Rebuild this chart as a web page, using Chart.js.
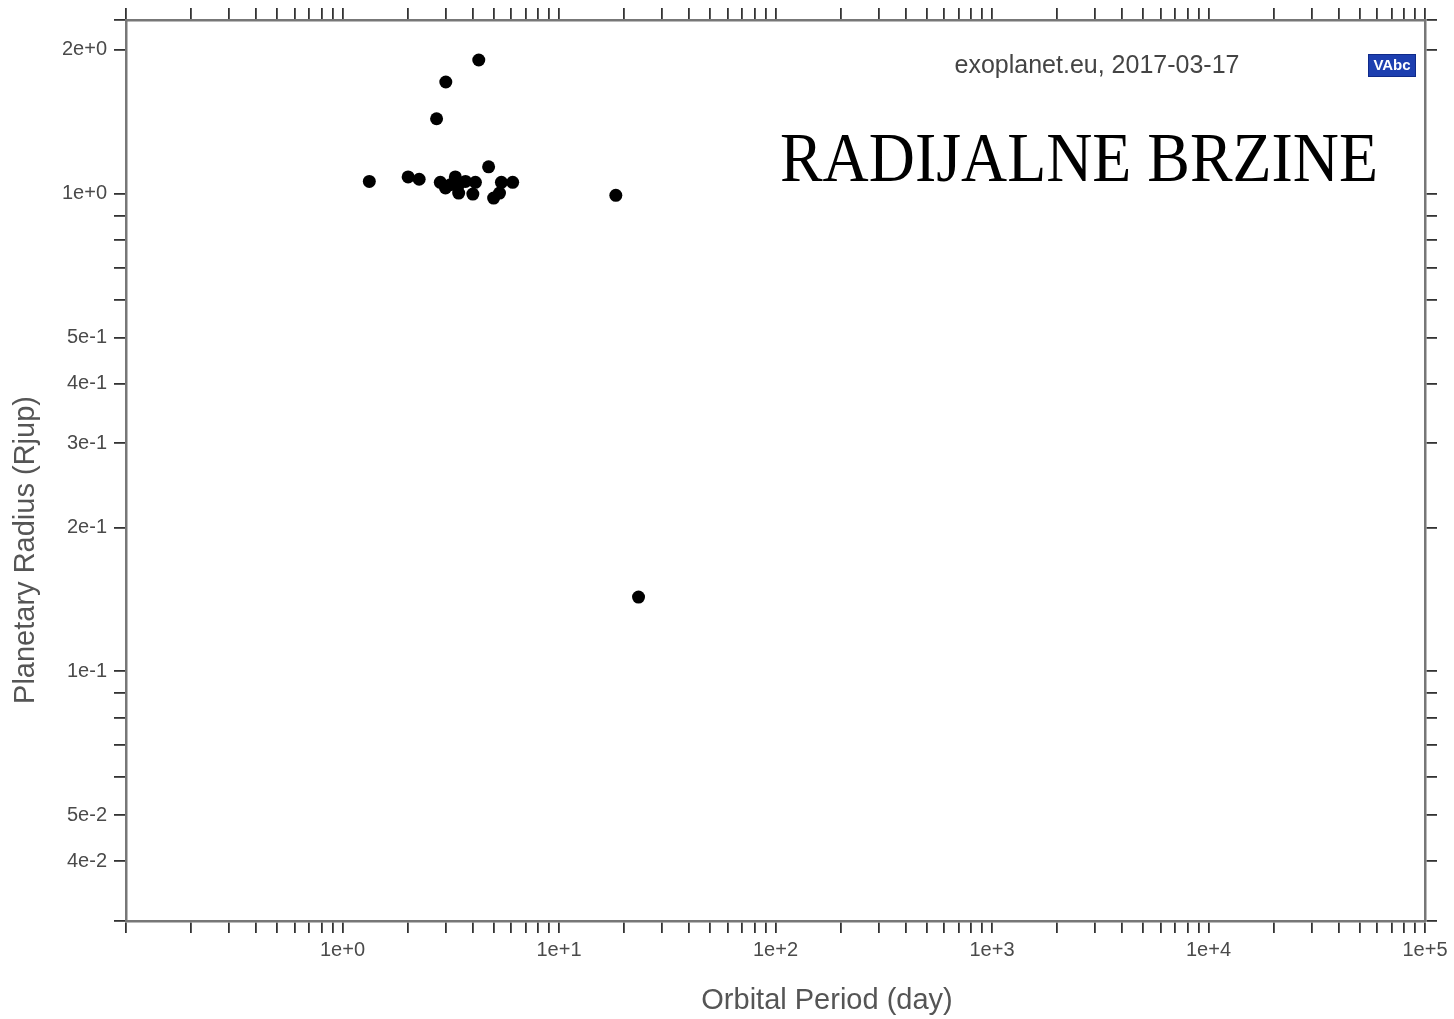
<!DOCTYPE html>
<html>
<head>
<meta charset="utf-8">
<script src="https://cdn.jsdelivr.net/npm/chart.js@4/dist/chart.umd.min.js"></script>
<style>
  html, body { margin: 0; padding: 0; background: #fff; }
  #wrap { width: 1454px; height: 1019px; position: relative; }
</style>
</head>
<body>
<div id="wrap"><canvas id="chart"></canvas></div>
<script>
// orbital period (day) and planetary radius (Rjup)
const periods = [1.33, 2.01, 2.26, 2.72, 3.00, 4.26, 2.83, 2.99, 3.15, 3.32, 3.44,
                 3.44, 3.70, 4.11, 4.00, 4.73, 4.99, 5.31, 5.42, 6.11, 18.3, 23.3];
const radii = [1.061, 1.084, 1.072, 1.435, 1.713, 1.905, 1.056, 1.028, 1.044, 1.084, 1.044,
               1.003, 1.061, 1.056, 0.998, 1.138, 0.979, 1.003, 1.056, 1.056, 0.992, 0.143];

// labelled ticks
const xMajorTicks = [1, 10, 100, 1000, 10000, 100000];
const xTickLabels = ['1e+0', '1e+1', '1e+2', '1e+3', '1e+4', '1e+5'];
const yMajorTicks = [2, 1, 0.5, 0.4, 0.3, 0.2, 0.1, 0.05, 0.04];
const yTickLabels = ['2e+0', '1e+0', '5e-1', '4e-1', '3e-1', '2e-1', '1e-1', '5e-2', '4e-2'];
const yMinorTicks = [0.9, 0.8, 0.7, 0.6, 0.09, 0.08, 0.07, 0.06, 0.03];

const X_MIN = 0.1, X_MAX = 100000;
const Y_MIN = 0.03, Y_MAX = 2.31;

// minor x ticks: 2..9 in every decade
const xTicks = [X_MIN];
for (let d = 0.1; d < X_MAX; d *= 10) {
    for (let m = 2; m <= 9; m++) xTicks.push(+(d * m).toPrecision(3));
}
xTicks.push(...xMajorTicks);
const yTicks = [Y_MAX, ...yMajorTicks, ...yMinorTicks];

const font = 'Liberation Sans, Arial, sans-serif';

const xLabel = v => {
    const i = xMajorTicks.findIndex(t => Math.abs(t - v) / t < 1e-6);
    return i >= 0 ? xTickLabels[i] : '';
};
const yLabel = v => {
    const i = yMajorTicks.findIndex(t => Math.abs(t - v) / t < 1e-6);
    return i >= 0 ? yTickLabels[i] : '';
};

const axisBase = (min, max, ticks) => ({
    type: 'logarithmic',
    min: min,
    max: max,
    afterBuildTicks: s => { s.ticks = ticks.map(v => ({ value: v })); },
    border: { display: true, color: '#777', width: 2.5 },
    grid: { display: true, drawOnChartArea: false, drawTicks: true, tickLength: 12, color: '#333', lineWidth: 1.8 }
});

const x = axisBase(X_MIN, X_MAX, xTicks);
x.position = 'bottom';
x.ticks = { autoSkip: false, maxRotation: 0, padding: 5, color: '#4a4a4a', font: { family: font, size: 20 }, callback: xLabel };
x.afterFit = s => { s.height = 98; };

const x2 = axisBase(X_MIN, X_MAX, xTicks);
x2.position = 'top';
x2.ticks = { display: false };
x2.afterFit = s => { s.height = 20; };

const y = axisBase(Y_MIN, Y_MAX, yTicks);
y.position = 'left';
y.ticks = { autoSkip: false, padding: 7, color: '#4a4a4a', font: { family: font, size: 20 }, callback: yLabel };
y.afterFit = s => { s.width = 126; };

const y2 = axisBase(Y_MIN, Y_MAX, yTicks);
y2.position = 'right';
y2.ticks = { display: false };
y2.afterFit = s => { s.width = 29; };

// axis titles, source note, big title and logo
const decorations = {
    id: 'decorations',
    afterDraw(chart) {
        const ctx = chart.ctx;
        ctx.save();
        ctx.fillStyle = '#555';
        ctx.font = '29px ' + font;
        ctx.textAlign = 'center';
        ctx.textBaseline = 'middle';
        ctx.fillText('Orbital Period (day)', 827, 1001);
        ctx.save();
        ctx.translate(26, 550);
        ctx.rotate(-Math.PI / 2);
        ctx.fillText('Planetary Radius (Rjup)', 0, 0);
        ctx.restore();

        ctx.fillStyle = '#444';
        ctx.font = '25px ' + font;
        ctx.fillText('exoplanet.eu, 2017-03-17', 1097, 66);

        // big title, squeezed to the width seen in the picture
        ctx.fillStyle = '#000';
        ctx.font = '69px Liberation Serif, Times New Roman, serif';
        ctx.textAlign = 'left';
        ctx.textBaseline = 'alphabetic';
        const txt = 'RADIJALNE BRZINE';
        const w = ctx.measureText(txt).width;
        ctx.save();
        ctx.translate(780, 181);
        ctx.scale(598 / w, 1);
        ctx.fillText(txt, 0, 0);
        ctx.restore();

        // logo box
        ctx.fillStyle = '#1d3fb0';
        ctx.fillRect(1368, 54, 48, 23);
        ctx.strokeStyle = '#0f2a8a';
        ctx.lineWidth = 1;
        ctx.strokeRect(1368.5, 54.5, 47, 22);
        ctx.fillStyle = '#fff';
        ctx.font = 'bold 15px ' + font;
        ctx.textAlign = 'center';
        ctx.textBaseline = 'middle';
        ctx.fillText('VAbc', 1392, 66);
        ctx.restore();
    }
};

new Chart(document.getElementById('chart'), {
    type: 'scatter',
    data: {
        datasets: [{
            data: periods.map((p, i) => ({ x: p, y: radii[i] })),
            backgroundColor: '#000',
            borderColor: '#000',
            pointRadius: 6.5,
            borderWidth: 0
        }]
    },
    options: {
        responsive: true,
        maintainAspectRatio: false,
        animation: false,
        layout: { padding: 0 },
        plugins: { legend: { display: false }, tooltip: { enabled: false } },
        scales: { x: x, x2: x2, y: y, y2: y2 }
    },
    plugins: [decorations]
});
</script>
</body>
</html>
